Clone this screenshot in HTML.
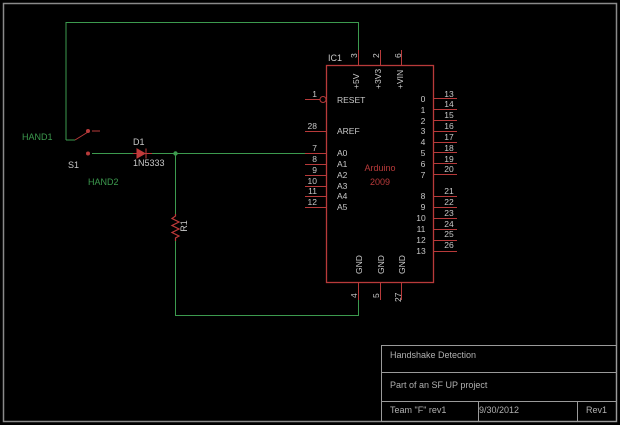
<!DOCTYPE html>
<html><head><style>
html,body{margin:0;padding:0;background:#000;}
svg{display:block;}
text{font-family:"Liberation Sans",sans-serif;}
</style></head><body>
<svg width="620" height="425" viewBox="0 0 620 425" xmlns="http://www.w3.org/2000/svg">
<rect width="620" height="425" fill="#000"/>
<!-- frame -->
<rect x="3.5" y="3.5" width="613" height="418" fill="none" stroke="#8a8a8a" stroke-width="1.5"/>
<!-- title block -->
<g stroke="#9a9a9a" stroke-width="1" fill="none">
<rect x="381.5" y="345.5" width="235" height="76"/>
<line x1="381" y1="372.5" x2="617" y2="372.5"/>
<line x1="381" y1="401.5" x2="617" y2="401.5"/>
<line x1="478.5" y1="401" x2="478.5" y2="422"/>
<line x1="577.5" y1="401" x2="577.5" y2="422"/>
</g>
<g fill="#b0b0b0" font-size="9">
<text x="390" y="358">Handshake Detection</text>
<text x="390" y="388">Part of an SF UP project</text>
<text x="390" y="413">Team "F" rev1</text>
<text x="479" y="413">9/30/2012</text>
<text x="586" y="413">Rev1</text>
</g>
<!-- green wires -->
<g stroke="#3c9a4e" stroke-width="1" fill="none">
<polyline points="66,140 66,22.5 358.5,22.5 358.5,50"/>
<line x1="66" y1="140" x2="75" y2="140"/>
<line x1="92" y1="153.5" x2="135" y2="153.5"/>
<line x1="150" y1="153.5" x2="305" y2="153.5"/>
<polyline points="175.5,153 175.5,214"/>
<polyline points="175.5,241 175.5,315.5 358.5,315.5 358.5,300"/>
</g>
<circle cx="175.5" cy="153.5" r="2.2" fill="#3c9a4e"/>
<!-- switch -->
<g stroke="#b83a3a" stroke-width="1" fill="none">
<line x1="75" y1="140" x2="88" y2="132"/>
<line x1="92" y1="131" x2="100" y2="131"/>
</g>
<circle cx="88" cy="131" r="2" fill="#b83a3a"/>
<circle cx="88" cy="153.5" r="2" fill="#b83a3a"/>
<!-- diode -->
<g stroke="#c03a3a" stroke-width="1" fill="none">
<line x1="133" y1="153.5" x2="152" y2="153.5"/>
<polygon points="137,149 137,158 145,153.5" fill="#c03a3a"/>
<line x1="146" y1="148.5" x2="146" y2="158.5"/>
</g>
<!-- resistor -->
<polyline points="175.5,214 175.5,216 172,218.5 179,222 172,225.5 179,229 172,232.5 179,236 175.5,238 175.5,241" stroke="#c03a3a" fill="none" stroke-width="1.2"/>
<!-- labels -->
<g font-size="9">
<text x="22" y="140" fill="#3c9a4e">HAND1</text>
<text x="88" y="185" fill="#3c9a4e">HAND2</text>
<text x="68" y="168" fill="#c8c8c8">S1</text>
<text x="133" y="145" fill="#c8c8c8">D1</text>
<text x="133" y="166" fill="#c8c8c8">1N5333</text>
<text x="187" y="226" fill="#c8c8c8" transform="rotate(-90 187 226)" text-anchor="middle">R1</text>
<text x="328" y="61" fill="#c8c8c8">IC1</text>
</g>
<!-- IC box -->
<rect x="326.5" y="65.5" width="107" height="217" fill="none" stroke="#b83a3a" stroke-width="1.3"/>
<g stroke="#b83a3a" stroke-width="1">
<line x1="358.5" y1="50" x2="358.5" y2="65"/>
<line x1="380.5" y1="50" x2="380.5" y2="65"/>
<line x1="401.5" y1="50" x2="401.5" y2="65"/>
<line x1="358.5" y1="283" x2="358.5" y2="300"/>
<line x1="380.5" y1="283" x2="380.5" y2="300"/>
<line x1="401.5" y1="283" x2="401.5" y2="300"/>
<line x1="305" y1="99.5" x2="320" y2="99.5"/>
<line x1="305" y1="131.5" x2="326" y2="131.5"/>
<line x1="305" y1="153.5" x2="326" y2="153.5"/>
<line x1="305" y1="164.5" x2="326" y2="164.5"/>
<line x1="305" y1="175.5" x2="326" y2="175.5"/>
<line x1="305" y1="186.5" x2="326" y2="186.5"/>
<line x1="305" y1="196.5" x2="326" y2="196.5"/>
<line x1="305" y1="207.5" x2="326" y2="207.5"/>
<line x1="434" y1="98.5" x2="457" y2="98.5"/>
<line x1="434" y1="109.5" x2="457" y2="109.5"/>
<line x1="434" y1="120.5" x2="457" y2="120.5"/>
<line x1="434" y1="131.5" x2="457" y2="131.5"/>
<line x1="434" y1="142.5" x2="457" y2="142.5"/>
<line x1="434" y1="152.5" x2="457" y2="152.5"/>
<line x1="434" y1="163.5" x2="457" y2="163.5"/>
<line x1="434" y1="174.5" x2="457" y2="174.5"/>
<line x1="434" y1="196.5" x2="457" y2="196.5"/>
<line x1="434" y1="207.5" x2="457" y2="207.5"/>
<line x1="434" y1="218.5" x2="457" y2="218.5"/>
<line x1="434" y1="229.5" x2="457" y2="229.5"/>
<line x1="434" y1="240.5" x2="457" y2="240.5"/>
<line x1="434" y1="251.5" x2="457" y2="251.5"/>
</g>
<circle cx="323" cy="99.5" r="3" fill="none" stroke="#b83a3a"/>
<g fill="#c8c8c8" font-size="8.5">
<text x="337" y="103">RESET</text>
<text x="337" y="134">AREF</text>
<text x="337" y="156">A0</text>
<text x="337" y="167">A1</text>
<text x="337" y="178">A2</text>
<text x="337" y="189">A3</text>
<text x="337" y="199">A4</text>
<text x="337" y="210">A5</text>
<text x="317" y="97" text-anchor="end">1</text>
<text x="317" y="129" text-anchor="end">28</text>
<text x="317" y="151" text-anchor="end">7</text>
<text x="317" y="162" text-anchor="end">8</text>
<text x="317" y="173" text-anchor="end">9</text>
<text x="317" y="184" text-anchor="end">10</text>
<text x="317" y="194" text-anchor="end">11</text>
<text x="317" y="205" text-anchor="end">12</text>
<g text-anchor="middle">
<text x="423" y="102">0</text><text x="423" y="113">1</text><text x="423" y="124">2</text><text x="423" y="134">3</text><text x="423" y="145">4</text><text x="423" y="156">5</text><text x="423" y="167">6</text><text x="423" y="178">7</text>
<text x="423" y="199">8</text><text x="423" y="210">9</text><text x="421" y="221">10</text><text x="421" y="232">11</text><text x="421" y="243">12</text><text x="421" y="254">13</text>
</g>
<g text-anchor="middle">
<text x="449" y="97">13</text><text x="449" y="107">14</text><text x="449" y="118">15</text><text x="449" y="129">16</text><text x="449" y="140">17</text><text x="449" y="151">18</text><text x="449" y="162">19</text><text x="449" y="172">20</text>
<text x="449" y="194">21</text><text x="449" y="205">22</text><text x="449" y="216">23</text><text x="449" y="227">24</text><text x="449" y="237">25</text><text x="449" y="248">26</text>
</g>
<text x="359" y="89" transform="rotate(-90 359 89)">+5V</text>
<text x="381" y="89" transform="rotate(-90 381 89)">+3V3</text>
<text x="403" y="89" transform="rotate(-90 403 89)">+VIN</text>
<text x="362" y="274" transform="rotate(-90 362 274)">GND</text>
<text x="384" y="274" transform="rotate(-90 384 274)">GND</text>
<text x="405" y="274" transform="rotate(-90 405 274)">GND</text>
<text x="357" y="58" transform="rotate(-90 357 58)">3</text>
<text x="379" y="58" transform="rotate(-90 379 58)">2</text>
<text x="401" y="58" transform="rotate(-90 401 58)">6</text>
<text x="357" y="298" transform="rotate(-90 357 298)">4</text>
<text x="379" y="298" transform="rotate(-90 379 298)">5</text>
<text x="401" y="302" transform="rotate(-90 401 302)">27</text>
</g>
<g fill="#b83a3a" font-size="9" text-anchor="middle">
<text x="380" y="171">Arduino</text>
<text x="380" y="185">2009</text>
</g>
</svg>
</body></html>
